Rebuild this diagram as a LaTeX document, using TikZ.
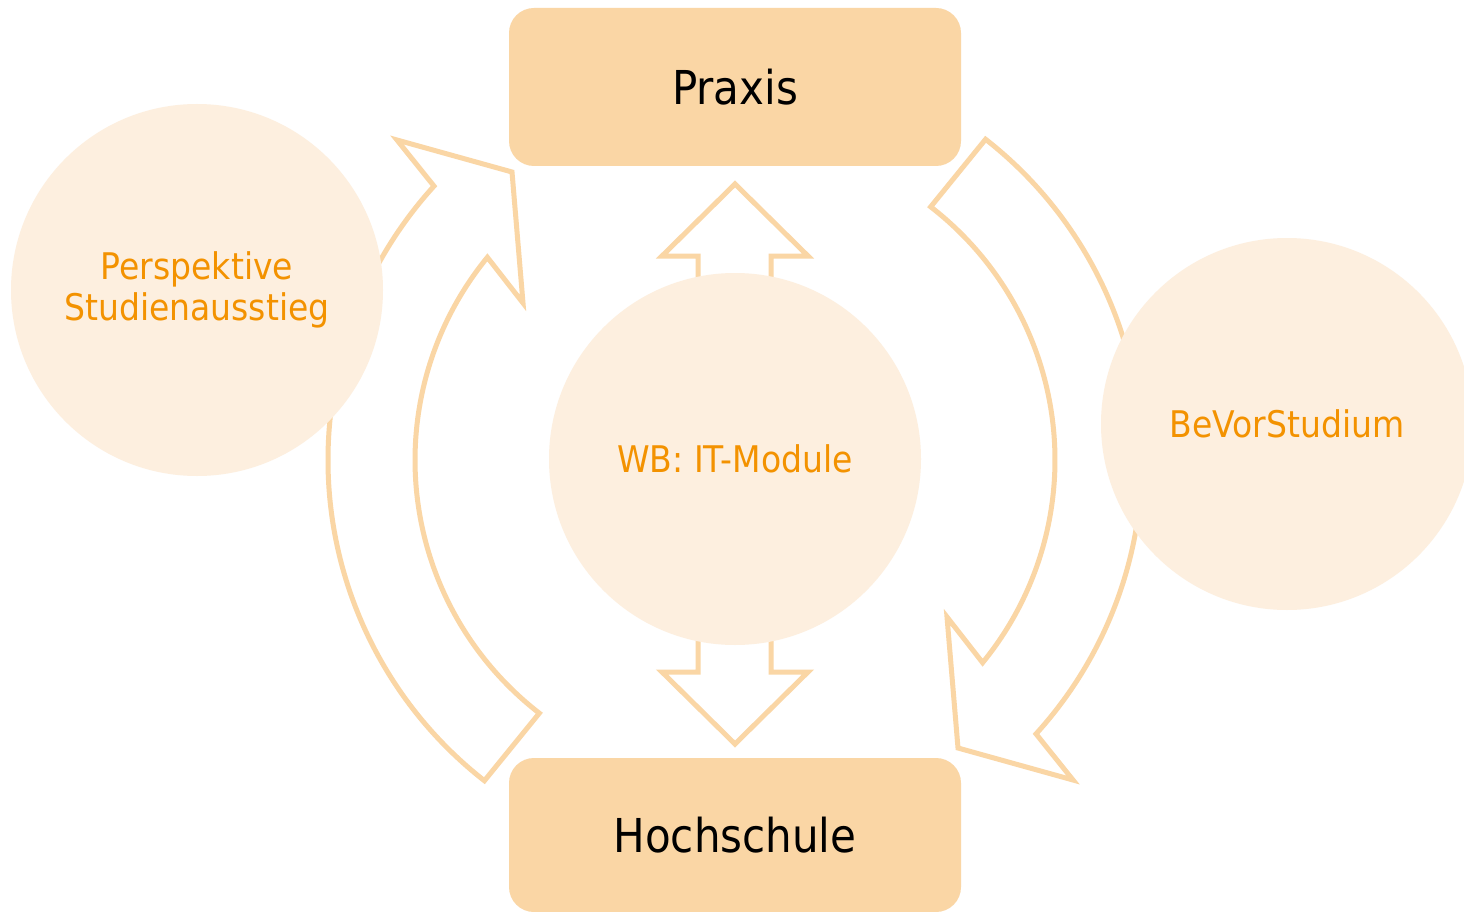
\documentclass[tikz,border=0pt]{standalone}
\usepackage{fontspec}
\setmainfont{DejaVu Sans Condensed}
\usetikzlibrary{calc}
\definecolor{boxc}{HTML}{FAD6A5}
\definecolor{bubblec}{HTML}{FDEFDF}
\definecolor{arrowc}{HTML}{FAD6A5}
\definecolor{textc}{HTML}{F39200}
\newcommand{\orangefont}{\fontsize{36.7}{41}\selectfont}
\newcommand{\blackfont}{\fontsize{46.7}{55}\selectfont}
\begin{document}
\begin{tikzpicture}[x=1pt,y=-1pt,
  arrowline/.style={draw=arrowc, line width=5pt, line join=miter, fill=white},
  bubble/.style={circle, fill=bubblec, minimum size=372pt, inner sep=0pt, text=textc, font=\orangefont, align=center},
  box/.style={rounded corners=25pt, fill=boxc, minimum width=452pt, text=black, font=\blackfont}]
\useasboundingbox (0,0) rectangle (1464,912);
\clip (0,0) rectangle (1464,912);
\fill[white] (0,0) rectangle (1464,912);
\coordinate (c) at (735,460);
% left curved arrow
\draw[arrowline] ($(c)+(128:407)$) arc[start angle=128, end angle=222.3, radius=407]
  -- (397,140) -- (512,172) -- (523,303) -- ($(c)+(219.3:320)$)
  arc[start angle=219.3, end angle=127.7, radius=320] -- cycle;
% right curved arrow
\begin{scope}[rotate around={180:(c)}]
\draw[arrowline] ($(c)+(128:407)$) arc[start angle=128, end angle=222.3, radius=407]
  -- (397,140) -- (512,172) -- (523,303) -- ($(c)+(219.3:320)$)
  arc[start angle=219.3, end angle=127.7, radius=320] -- cycle;
\end{scope}
% center up-down arrow
\draw[arrowline] (735,184) -- (808,256) -- (771,256) -- (771,672) -- (808,672) -- (735,744)
  -- (662,672) -- (698,672) -- (698,256) -- (662,256) -- cycle;
% circles
\node[bubble] (persp) at (197,290) {Perspektive\\Studienausstieg};
\node[bubble] (wb) at (735,459) {WB: IT-Module};
\node[bubble] (bevor) at (1287,424) {BeVorStudium};
% boxes
\node[box, minimum height=158pt] (praxis) at (735,87) {Praxis};
\node[box, minimum height=154pt] (hs) at (735,835) {Hochschule};
\end{tikzpicture}
\end{document}
